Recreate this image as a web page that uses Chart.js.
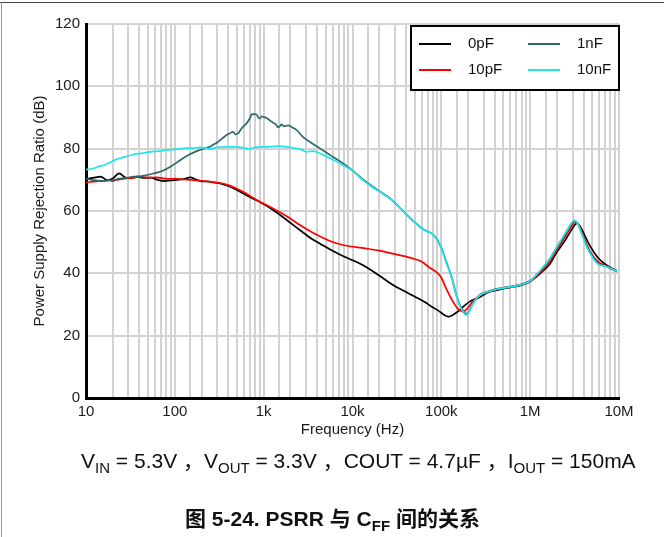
<!DOCTYPE html>
<html>
<head>
<meta charset="utf-8">
<script src="https://cdn.jsdelivr.net/npm/chart.js@4.4.1/dist/chart.umd.min.js"></script>
<style>
  html, body { margin: 0; padding: 0; background: #fff; }
  body { width: 664px; height: 537px; position: relative; overflow: hidden;
         font-family: "Liberation Sans", Arial, "Noto Sans CJK SC", sans-serif; color: #111; }
  #wrap { position: absolute; left: 0; top: 0; width: 664px; height: 537px; }
  .frameTop { position: absolute; left: 0; top: 2px; width: 664px; height: 1px; background: #444; }
  .frameLeft { position: absolute; left: 1px; top: 2px; width: 1px; height: 535px; background: #999; }
  .caption { position: absolute; left: 81px; top: 450px; font-size: 21px; line-height: 21px; white-space: pre; }
  .caption sub { font-size: 15px; vertical-align: -5px; line-height: 0; }
  .figtitle { position: absolute; left: 185px; top: 508px; font-size: 21px; line-height: 21px; font-weight: bold; white-space: pre; }
  .figtitle sub { font-size: 15px; vertical-align: -5px; line-height: 0; }
</style>
</head>
<body>
<div id="wrap"><canvas id="psrrChart" width="664" height="537"></canvas></div>
<div class="frameTop"></div>
<div class="frameLeft"></div>
<div class="caption">V<sub>IN</sub> = 5.3V ，V<sub>OUT</sub> = 3.3V ，COUT = 4.7µF ，I<sub>OUT</sub> = 150mA</div>
<div class="figtitle">图 5-24. PSRR 与 C<sub>FF</sub> 间的关系</div>

<script>
// tick labels
const xTickLabels = ['10', '100', '1k', '10k', '100k', '1M', '10M'];
const yTickValues = [0, 20, 40, 60, 80, 100, 120];

// CFF = 0pF
const freq0pF = [10, 12, 14.6, 17.4, 20, 23.5, 27.9, 32, 37.8, 45, 53.4, 64, 75.3, 90, 106, 125, 150, 170, 195, 230, 275,
  330, 400, 480, 600, 750, 900, 1100, 1400, 1800, 2550, 3500, 4500, 5750, 8000, 10e3, 13.9e3, 20e3, 27.7e3, 40e3, 50.6e3,
  65e3, 78e3, 95e3, 108e3, 119e3, 132e3, 150e3, 175e3, 210e3, 261e3, 330e3, 437e3, 600e3, 800e3, 1e6, 1.3e6, 1.65e6,
  2e6, 2.5e6, 3e6, 3.33e6, 3.7e6, 4.2e6, 4.8e6, 5.8e6, 7e6, 8.2e6, 9.5e6];
const psrr0pF = [70.3, 70.6, 71.0, 69.9, 70.4, 72.1, 70.7, 70.5, 71.0, 70.6, 70.7, 70.0, 69.6, 69.8, 70.0, 70.2, 70.8, 70.2, 69.6, 69.5, 69.2,
  68.8, 68.0, 67.0, 65.5, 64.0, 63.0, 61.5, 59.5, 57.2, 53.9, 51.0, 49.2, 47.5, 45.4, 44.2, 42.2, 39.3, 36.5, 34.0, 32.5,
  30.8, 29.3, 27.8, 26.6, 26.1, 26.5, 27.5, 29.2, 31.0, 32.1, 33.8, 34.7, 35.5, 36.2, 37.4, 40.0, 42.8,
  46.8, 50.8, 54.5, 56.0, 54.8, 51.6, 48.4, 45.0, 42.9, 41.7, 40.8];

// CFF = 10pF
const freq10pF = [10, 13, 16, 19, 22.5, 27, 33, 41, 50, 62, 82, 100, 125, 150, 200, 275, 330, 400, 480, 600, 760, 900,
  1100, 1400, 1800, 2550, 3500, 4500, 5750, 8000, 13.9e3, 20e3, 32.9e3, 50e3, 60.3e3, 74e3, 88e3, 100e3, 114e3, 131e3,
  150e3, 175e3, 195e3, 220e3, 260e3, 330e3, 440e3, 600e3, 800e3, 1e6, 1.3e6, 1.65e6, 2e6, 2.5e6, 2.9e6, 3.2e6, 3.5e6,
  4e6, 4.5e6, 5.2e6, 6e6, 7e6, 8.2e6, 9.5e6];
const psrr10pF = [69.2, 69.5, 69.6, 69.9, 70.0, 70.4, 70.6, 71.0, 70.7, 70.8, 70.3, 70.4, 70.1, 70.0, 69.7, 69.2, 68.9, 68.3, 67.4, 66.0, 64.2, 63.0,
  61.8, 60.2, 58.4, 55.5, 53.2, 51.6, 50.2, 49.0, 48.0, 47.3, 45.9, 44.6, 43.7, 41.8, 40.4, 38.6, 35.0, 31.6,
  29.0, 27.7, 28.6, 30.6, 32.5, 34.0, 35.0, 35.7, 36.4, 37.4, 40.4, 43.6, 47.6, 52.0, 55.0, 56.6, 55.8,
  51.8, 48.2, 45.2, 43.4, 42.5, 41.4, 40.7];

// CFF = 1nF
const freq1nF = [10, 11.5, 13, 15.9, 18, 20, 22.5, 27, 34.6, 42, 53.4, 63, 75.3, 90, 106, 125, 150, 180, 212, 248, 275,
  300, 340, 383, 420, 452, 480, 520, 564, 641, 700, 730, 800, 830, 870, 906, 950, 1000, 1060, 1120, 1220, 1300, 1390,
  1450, 1520, 1580, 1700, 1890, 2100, 2340, 2760, 3300, 4300, 5550, 7200, 8270, 10e3, 13e3, 16.5e3, 22e3, 27.7e3,
  32.9e3, 42.6e3, 52e3, 60.3e3, 70e3, 78e3, 88e3, 100e3, 114e3, 131e3, 147e3, 162e3, 180e3, 191e3, 205e3, 225e3,
  250e3, 280e3, 330e3, 420e3, 550e3, 700e3, 850e3, 1e6, 1.3e6, 1.65e6, 2e6, 2.5e6, 2.9e6, 3.16e6, 3.45e6, 4e6, 4.5e6,
  5.2e6, 5.8e6, 6.5e6, 7.2e6, 8e6, 9.5e6];
const psrr1nF = [70.4, 70.0, 69.8, 69.6, 70.0, 69.5, 70.3, 70.5, 71.0, 71.2, 71.8, 72.3, 73.1, 74.3, 75.6, 77.0, 78.3, 79.3, 80.0, 80.6, 81.4,
  82.0, 83.2, 84.4, 85.0, 85.4, 84.6, 85.0, 86.5, 88.1, 89.8, 91.0, 91.1, 91.0, 90.0, 89.7, 90.4, 90.2, 89.9, 89.5, 88.7, 88.2, 87.6,
  86.8, 87.2, 87.8, 87.2, 87.5, 86.8, 86.0, 83.8, 82.2, 80.1, 78.0, 76.0, 74.8, 73.0, 70.2, 68.0, 65.6, 63.6,
  61.5, 58.3, 56.0, 54.5, 53.4, 52.8, 51.2, 48.2, 43.6, 38.7, 33.2, 29.8, 27.6, 27.0, 27.8, 30.2,
  32.1, 33.4, 34.1, 35.0, 35.6, 36.1, 36.7, 37.6, 40.8, 44.5, 48.4, 52.8, 55.8, 56.8, 55.8, 51.2, 47.8,
  44.8, 43.2, 42.6, 42.2, 41.6, 40.6];

// CFF = 10nF
const freq10nF = [10, 10.8, 12.5, 14, 15.9, 19, 22.5, 27, 34.6, 42, 53.4, 65, 82, 100, 126, 160, 195, 248, 300, 417,
  520, 600, 698, 800, 1000, 1170, 1400, 1808, 2340, 2700, 3000, 3560, 4650, 5750, 7200, 9800, 13e3, 16.5e3, 22e3,
  27.7e3, 32.9e3, 42.6e3, 52e3, 60.3e3, 70e3, 78e3, 88e3, 100e3, 114e3, 131e3, 147e3, 162e3, 180e3, 191e3, 205e3,
  225e3, 250e3, 280e3, 330e3, 420e3, 550e3, 700e3, 850e3, 1e6, 1.3e6, 1.65e6, 2e6, 2.5e6, 2.9e6, 3.16e6, 3.45e6,
  4e6, 4.5e6, 5.2e6, 5.8e6, 6.5e6, 7.2e6, 8e6, 9.5e6];
const psrr10nF = [73.3, 73.4, 73.8, 74.3, 74.7, 75.7, 76.7, 77.3, 78.2, 78.5, 79.0, 79.2, 79.6, 79.8, 80.1, 80.2, 80.4, 79.9, 80.4, 80.6,
  80.5, 80.2, 79.9, 80.4, 80.6, 80.6, 80.8, 80.6, 80.1, 79.6, 79.0, 79.2, 78.0, 76.8, 75.3, 73.1, 70.0, 67.8, 65.5,
  63.5, 61.4, 58.2, 56.0, 54.4, 53.3, 52.8, 51.0, 48.0, 43.3, 38.5, 33.0, 29.5, 27.2, 26.6, 27.6,
  30.0, 32.0, 33.2, 34.0, 34.9, 35.5, 36.0, 36.6, 37.5, 41.0, 44.6, 48.5, 53.0, 56.0, 57.0, 55.8,
  51.0, 47.5, 44.5, 42.9, 42.5, 42.2, 41.6, 40.7];

function toPoints(xs, ys) {
    return xs.map(function (x, i) { return { x: x, y: ys[i] }; });
}

// legend drawn inside the plot, top right, two columns
const legendBox = {
    id: 'legendBox',
    afterDraw: function (chart) {
        const ctx = chart.ctx;
        const area = chart.chartArea;
        const x0 = area.right - 208, y0 = area.top + 2, w = 208, h = 64;
        ctx.save();
        ctx.fillStyle = '#fff';
        ctx.fillRect(x0, y0, w, h);
        ctx.strokeStyle = '#000';
        ctx.lineWidth = 2;
        ctx.strokeRect(x0, y0, w, h);
        ctx.font = '15px "Liberation Sans", Arial, sans-serif';
        ctx.textBaseline = 'middle';
        ctx.textAlign = 'left';
        chart.data.datasets.forEach(function (ds, i) {
            const col = Math.floor(i / 2), row = i % 2;
            const lx = x0 + 8 + col * 109;
            const ly = y0 + 18 + row * 26;
            ctx.strokeStyle = ds.borderColor;
            ctx.lineWidth = 2;
            ctx.beginPath();
            ctx.moveTo(lx, ly);
            ctx.lineTo(lx + 32, ly);
            ctx.stroke();
            ctx.fillStyle = '#111';
            ctx.fillText(ds.label, lx + 49, ly);
        });
        ctx.restore();
    }
};

Chart.defaults.font.family = '"Liberation Sans", Arial, sans-serif';

const ctx = document.getElementById('psrrChart').getContext('2d');

new Chart(ctx, {
    type: 'line',
    data: {
        datasets: [
            { label: '0pF', data: toPoints(freq0pF, psrr0pF), borderColor: '#000000', order: 4 },
            { label: '10pF', data: toPoints(freq10pF, psrr10pF), borderColor: '#ff0000', order: 3 },
            { label: '1nF', data: toPoints(freq1nF, psrr1nF), borderColor: '#2f6868', order: 2 },
            { label: '10nF', data: toPoints(freq10nF, psrr10nF), borderColor: '#1fe6ec', order: 1 }
        ]
    },
    options: {
        responsive: false,
        animation: false,
        datasets: {
            line: {
                borderWidth: 1.7,
                pointRadius: 0,
                fill: false,
                cubicInterpolationMode: 'monotone'
            }
        },
        layout: {
            padding: { left: 0, top: 24, right: 45, bottom: 94 }
        },
        plugins: {
            legend: { display: false },
            tooltip: { enabled: false }
        },
        scales: {
            x: {
                type: 'logarithmic',
                min: 10,
                max: 1e7,
                afterFit: function (scale) { scale.height = 45; },
                ticks: {
                    autoSkip: false,
                    maxRotation: 0,
                    padding: 5,
                    color: '#1a1a1a',
                    font: { size: 15 },
                    callback: function (value) {
                        const e = Math.log10(value);
                        if (Math.abs(e - Math.round(e)) < 1e-6) {
                            return xTickLabels[Math.round(e) - 1];
                        }
                        return '';
                    }
                },
                grid: {
                    color: '#d2d2d2',
                    lineWidth: 2,
                    drawTicks: false
                },
                border: { color: '#000', width: 3 },
                title: {
                    display: true,
                    text: 'Frequency (Hz)',
                    color: '#1a1a1a',
                    font: { size: 15 },
                    padding: { top: 0, bottom: 4 }
                }
            },
            y: {
                min: 0,
                max: 120,
                afterFit: function (scale) { scale.width = 86; },
                afterBuildTicks: function (scale) {
                    scale.ticks = yTickValues.map(function (v) { return { value: v }; });
                },
                ticks: {
                    padding: 6,
                    color: '#1a1a1a',
                    font: { size: 15 }
                },
                grid: {
                    color: '#d2d2d2',
                    lineWidth: 2,
                    drawTicks: false
                },
                border: { color: '#000', width: 3 },
                title: {
                    display: true,
                    text: 'Power Supply Rejection Ratio (dB)',
                    color: '#1a1a1a',
                    font: { size: 15 },
                    padding: { top: 31, bottom: 0 }
                }
            }
        }
    },
    plugins: [legendBox]
});
</script>
</body>
</html>
